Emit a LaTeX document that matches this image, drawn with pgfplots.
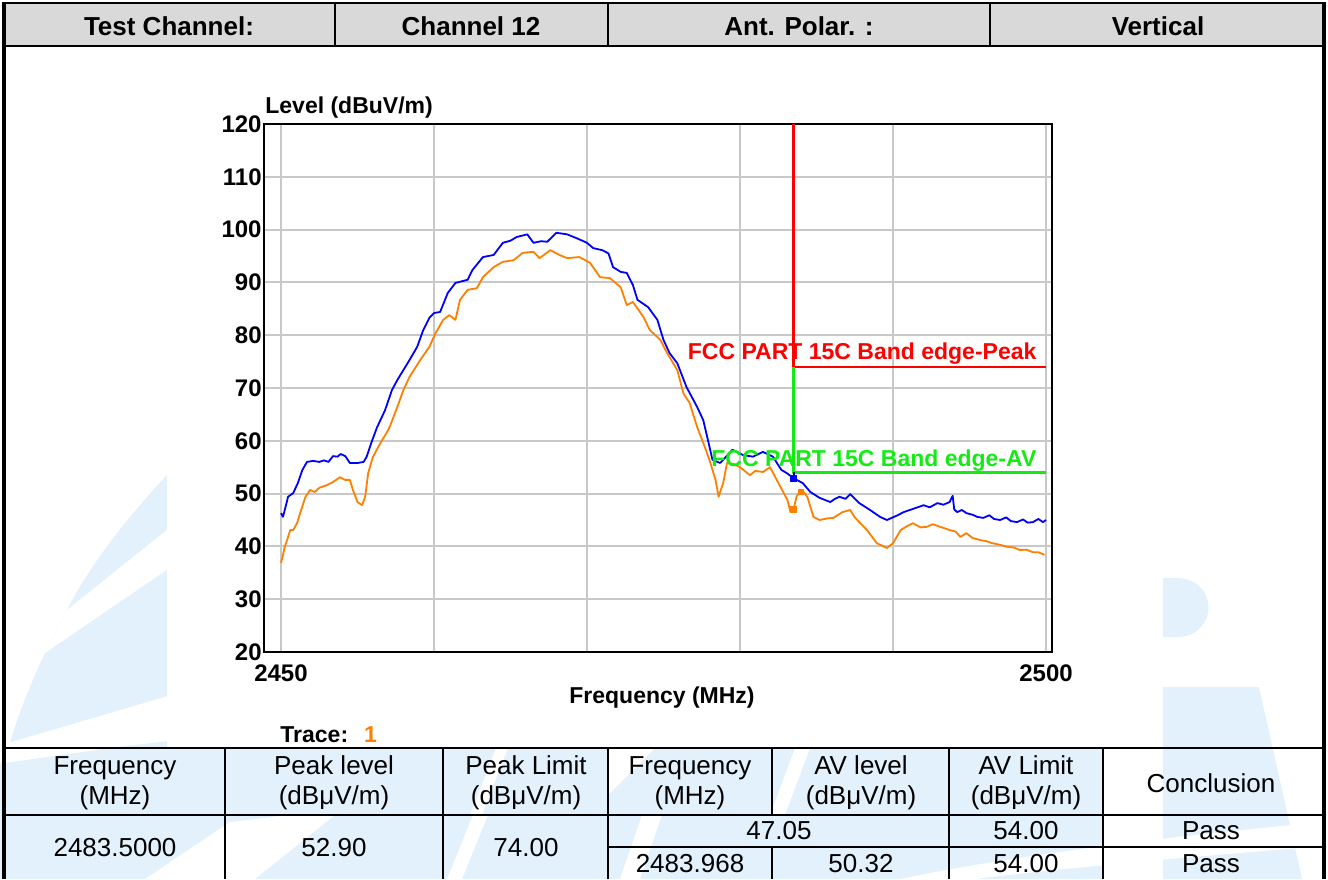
\documentclass[border=0pt]{standalone}
\usepackage{pgfplots}
\pgfplotsset{compat=1.18}
\usepackage{fontspec}
\setmainfont{Liberation Sans}
\definecolor{wm}{RGB}{226,241,252}
\definecolor{hdr}{RGB}{217,217,217}
\definecolor{gridc}{RGB}{200,200,200}
\definecolor{trblue}{RGB}{0,0,255}
\definecolor{trorange}{RGB}{255,128,0}
\definecolor{limgreen}{RGB}{20,235,20}

\pgfplotstableread{
f v
2450.0 46.3
2450.13 45.6
2450.3 47.5
2450.46 49.4
2450.8 50.1
2451.1 52.0
2451.4 54.5
2451.7 56.0
2452.1 56.2
2452.5 56.0
2452.8 56.3
2453.1 56.0
2453.4 57.1
2453.7 57.0
2453.9 57.5
2454.2 57.1
2454.5 55.8
2455.0 55.8
2455.4 56.0
2455.6 57.0
2455.9 59.6
2456.27 62.5
2456.8 65.8
2457.25 69.6
2457.6 71.5
2458.0 73.4
2458.4 75.3
2458.9 77.8
2459.3 81.0
2459.7 83.3
2460.0 84.2
2460.4 84.4
2460.9 88.0
2461.4 89.9
2461.8 90.2
2462.2 90.5
2462.5 92.3
2463.2 94.8
2463.9 95.2
2464.5 97.5
2465.0 97.9
2465.4 98.6
2466.1 99.1
2466.5 97.5
2467.0 97.8
2467.4 97.7
2468.0 99.4
2468.7 99.1
2469.3 98.4
2470.0 97.5
2470.4 96.5
2471.0 96.1
2471.4 95.5
2471.7 92.9
2472.2 92.0
2472.6 91.8
2473.0 89.5
2473.3 86.7
2474.0 85.3
2474.6 82.9
2475.0 79.1
2475.4 76.6
2475.9 74.7
2476.5 70.2
2477.2 66.4
2477.6 63.9
2477.9 60.2
2478.2 56.4
2478.7 55.8
2478.9 56.4
2479.5 58.3
2480.2 57.3
2480.85 57.0
2481.5 57.9
2482.15 57.0
2482.7 54.5
2483.1 53.8
2483.5 52.9
2484.1 52.0
2484.6 50.3
2485.2 49.2
2485.9 48.4
2486.2 49.0
2486.5 49.4
2486.9 49.0
2487.2 49.9
2487.8 48.2
2488.5 46.9
2489.15 45.6
2489.6 45.0
2490.3 45.9
2490.7 46.5
2491.1 46.9
2491.5 47.3
2492.0 47.8
2492.4 47.4
2492.9 48.2
2493.3 47.9
2493.7 48.4
2493.9 49.6
2494.0 47.0
2494.2 46.5
2494.5 46.9
2494.8 46.3
2495.2 46.0
2495.5 45.6
2495.9 45.4
2496.3 45.9
2496.6 45.2
2497.0 45.0
2497.4 45.5
2497.7 44.8
2498.1 44.6
2498.5 45.1
2498.8 44.5
2499.15 44.6
2499.5 45.2
2499.8 44.6
2500.0 45.0
}\peaktrace

\pgfplotstableread{
f v
2450.0 36.9
2450.1 38.0
2450.25 40.0
2450.4 41.2
2450.6 43.1
2450.8 43.1
2451.05 44.4
2451.25 46.3
2451.6 49.4
2451.9 50.7
2452.2 50.3
2452.5 51.1
2453.0 51.6
2453.4 52.2
2453.85 53.1
2454.2 52.6
2454.5 52.6
2454.7 50.7
2455.0 48.4
2455.3 47.8
2455.5 49.4
2455.7 53.9
2456.0 56.9
2456.5 59.6
2456.9 61.5
2457.1 62.6
2457.6 66.4
2458.0 69.6
2458.4 72.1
2459.1 75.3
2459.7 77.8
2460.1 80.4
2460.6 82.9
2461.0 83.8
2461.4 82.9
2461.7 86.7
2462.2 88.6
2462.8 88.9
2463.2 91.0
2463.9 92.9
2464.5 93.9
2465.2 94.2
2465.8 95.6
2466.5 95.8
2466.9 94.6
2467.6 96.1
2468.2 95.2
2468.7 94.6
2469.5 94.8
2470.2 93.7
2470.85 91.0
2471.5 90.8
2472.2 89.1
2472.6 85.7
2473.0 86.3
2473.7 83.4
2474.1 81.0
2474.8 79.1
2475.2 76.8
2475.9 73.4
2476.3 69.0
2476.7 67.2
2477.2 62.6
2477.6 59.6
2478.0 56.4
2478.4 52.6
2478.6 49.4
2478.9 52.0
2479.15 55.8
2479.6 55.6
2480.0 55.0
2480.65 53.5
2481.0 54.3
2481.5 54.1
2481.96 55.0
2482.4 52.6
2483.1 48.8
2483.3 46.5
2483.5 47.0
2483.7 49.5
2484.05 50.7
2484.4 49.4
2484.8 45.6
2485.2 45.0
2485.7 45.3
2486.1 45.4
2486.7 46.5
2487.2 46.9
2487.5 45.5
2487.8 44.6
2488.3 43.1
2488.95 40.6
2489.6 39.7
2490.0 40.6
2490.5 43.1
2490.9 43.8
2491.3 44.4
2491.8 43.6
2492.2 43.7
2492.6 44.2
2493.1 43.7
2493.7 43.1
2494.1 42.8
2494.4 41.8
2494.8 42.5
2495.2 41.6
2495.7 41.2
2496.1 41.0
2496.5 40.6
2497.0 40.3
2497.5 39.9
2497.9 39.8
2498.3 39.3
2498.7 39.4
2499.15 38.9
2499.5 38.9
2499.9 38.4
}\avtrace

\begin{document}
\begin{tikzpicture}
\begin{scope}[x=0.5pt,y=-0.5pt]
\useasboundingbox (0,0) rectangle (1328,879);
% ---- watermark (left) ----
\fill[wm] (167,475) .. controls (125,520) and (90,565) .. (67,610) -- (45,653)
   .. controls (30,685) and (18,715) .. (10,743) -- (0,765) -- (0,879) -- (167,879) -- cycle;
\fill[white] (168,529) -- (67,610) -- (45,653) -- (168,569) -- cycle;
\fill[white] (168,696) -- (8,743) -- (0,748) -- (0,761) -- (168,741) -- cycle;
% ---- watermark (right) ----
\fill[wm] (1163,578) -- (1180,578) .. controls (1218,582) and (1218,633) .. (1180,637) -- (1163,637) -- cycle;
\fill[wm] (1163,687) -- (1259,687) -- (1302,879) -- (1163,879) -- cycle;
% ---- table background watermark ----
\fill[wm] (4,748) rectangle (1103,879);
\fill[white] (4,748) -- (110,748) -- (4,763) -- cycle;
\fill[white] (145,879) -- (230,822) -- (290,815) -- (335,815) -- (255,879) -- cycle;
\fill[white] (447,879) -- (462,879) -- (488,815) -- (473,815) -- cycle;
\fill[white] (470,815) -- (482,815) -- (508,748) -- (496,748) -- cycle;
\fill[white] (608,748) -- (655,748) -- (608,795) -- cycle;
\fill[white] (620,879) -- (640,879) -- (662,815) -- (642,815) -- cycle;
\fill[white] (770,815) -- (785,815) -- (810,748) -- (795,748) -- cycle;
\fill[white] (900,879) .. controls (1000,858) and (1150,838) .. (1324,822) -- (1324,846)
   .. controls (1150,860) and (1030,872) .. (975,879) -- cycle;
% ---- outer frame and header ----
\fill[hdr] (4,3) rectangle (1324,46);
\draw[line width=1pt] (4,3) -- (1324,3);
\draw[line width=1pt] (4,46) -- (1324,46);
\draw[line width=0.8pt] (335,3) -- (335,46) (608,3) -- (608,46) (990,3) -- (990,46);
\draw[line width=2pt] (4,2) -- (4,879);
\draw[line width=2pt] (1324,2) -- (1324,879);
\begin{scope}[every node/.style={font=\bfseries\fontsize{13}{15}\selectfont, inner sep=0pt}]
\node at (169,26) {Test Channel:};
\node at (471,26) {Channel 12};
\node at (799,26) {Ant. Polar. :};
\node at (1158,26) {Vertical};
\end{scope}
\node[anchor=west, inner sep=0pt, font=\bfseries\fontsize{11.5}{12}\selectfont] at (265,108) {Level (dBuV/m)};
\node[inner sep=0pt, font=\bfseries\fontsize{11.5}{12}\selectfont] at (662,698) {Frequency (MHz)};
\node[anchor=west, inner sep=0pt, font=\bfseries\fontsize{11.5}{12}\selectfont] at (280,735) {Trace:\hspace{8pt}\textcolor{trorange}{1}};
% ---- result table ----
\draw[line width=1.4pt] (4,748) -- (1324,748);
\draw[line width=1.4pt] (4,815) -- (1324,815);
\draw[line width=1.4pt] (608,847) -- (1324,847);
\draw[line width=1.4pt] (225,748) -- (225,879) (443,748) -- (443,879) (608,748) -- (608,879)
  (772,748) -- (772,815) (772,847) -- (772,879) (949,748) -- (949,879) (1103,748) -- (1103,879);
\begin{scope}[every node/.style={font=\fontsize{13}{15}\selectfont, inner sep=0pt, align=center}]
\node at (115,783) {Frequency\\(MHz)};
\node at (334,783) {Peak level\\(dBμV/m)};
\node at (526,783) {Peak Limit\\(dBμV/m)};
\node at (690,783) {Frequency\\(MHz)};
\node at (861,783) {AV level\\(dBμV/m)};
\node at (1026,783) {AV Limit\\(dBμV/m)};
\node at (1211,783) {Conclusion};
\node at (115,848) {2483.5000};
\node at (334,848) {52.90};
\node at (526,848) {74.00};
\node at (779,831) {47.05};
\node at (1026,831) {54.00};
\node at (1211,831) {Pass};
\node at (690,864) {2483.968};
\node at (861,864) {50.32};
\node at (1026,864) {54.00};
\node at (1211,864) {Pass};
\end{scope}
\end{scope}
% ---- chart ----
\begin{axis}[
  at={(132pt,-326pt)}, anchor=south west, scale only axis,
  width=394pt, height=264pt,
  xmin=2448.889, xmax=2500.392, ymin=20, ymax=120,
  xtick={2450,2460,2470,2480,2490,2500},
  xticklabels={2450,,,,,2500},
  ytick={20,30,40,50,60,70,80,90,100,110,120},
  grid=major, major grid style={draw=gridc, line width=1pt},
  axis line style={black, line width=1.1pt},
  tick style={draw=none},
  /pgf/number format/assume math mode=true,
  /pgf/number format/1000 sep={},
  ticklabel style={font=\bfseries\fontsize{12}{12}\selectfont},
  yticklabel style={inner sep=0pt, anchor=east, xshift=-1pt},
  xticklabel style={inner sep=0pt, anchor=north, yshift=-6pt},
  clip=false,
]
\addplot[trorange, line width=0.9pt, line join=round] table[x=f,y=v] {\avtrace};
\addplot[trblue, line width=0.9pt, line join=round] table[x=f,y=v] {\peaktrace};
\addplot[red, line width=1.1pt] coordinates {(2483.5,120) (2483.5,74) (2500,74)};
\addplot[limgreen, line width=1.1pt] coordinates {(2483.5,74) (2483.5,54) (2500,54)};
\addplot[trblue!60!black, line width=1pt] coordinates {(2483.5,54) (2483.5,52.9)};
\addplot[only marks, mark=square*, mark size=1.4pt, trblue] coordinates {(2483.5,52.9)};
\addplot[only marks, mark=square*, mark size=1.4pt, trorange] coordinates {(2483.5,47.05) (2483.968,50.32)};
\node[anchor=base east, inner sep=0pt, text=red, font=\bfseries\fontsize{11.5}{12}\selectfont] at (axis cs:2499.4,75.4) {FCC PART 15C Band edge-Peak};
\node[anchor=base east, inner sep=0pt, text=limgreen, font=\bfseries\fontsize{11.5}{12}\selectfont] at (axis cs:2499.4,55.1) {FCC PART 15C Band edge-AV};
\end{axis}
\end{tikzpicture}
\end{document}
